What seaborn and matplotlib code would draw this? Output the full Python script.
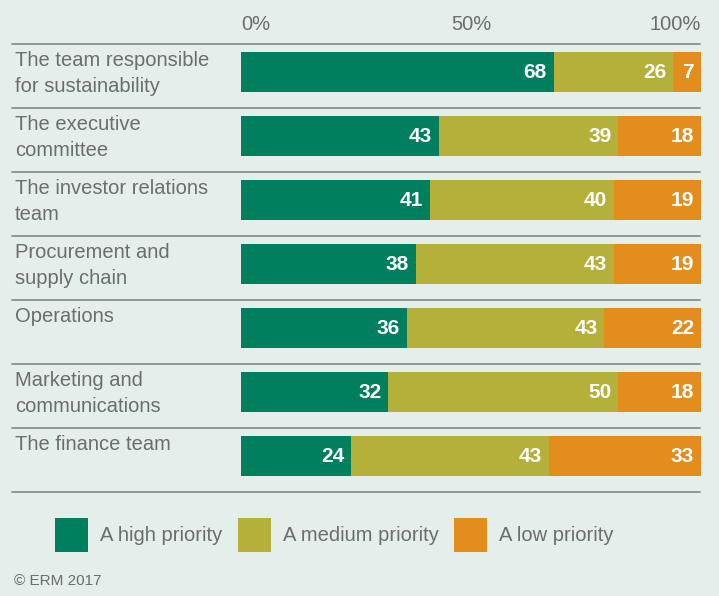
import numpy as np
import pandas as pd
import matplotlib
matplotlib.use("Agg")
import matplotlib.pyplot as plt
from matplotlib.lines import Line2D
from matplotlib.patches import Patch
import seaborn as sns

# data
categories = ["The team responsible\nfor sustainability",
              "The executive\ncommittee",
              "The investor relations\nteam",
              "Procurement and\nsupply chain",
              "Operations",
              "Marketing and\ncommunications",
              "The finance team"]
high = [68, 43, 41, 38, 36, 32, 24]
medium = [26, 39, 40, 43, 43, 50, 43]
low = [7, 18, 19, 19, 22, 18, 33]
series_names = ["A high priority", "A medium priority", "A low priority"]
tick_vals = [0, 50, 100]
tick_labels = ["0%", "50%", "100%"]

colors = ["#007f5f", "#b5b03a", "#e38d1c"]
bg = "#e4eeea"
grey = "#6b6e6c"

sns.set_theme(style="white")
plt.rcParams["font.family"] = ["Liberation Sans", "DejaVu Sans"]

df = pd.DataFrame({"cat": categories, "high": high, "medium": medium, "low": low})
df["c_high"] = df["high"]
df["c_medium"] = df["high"] + df["medium"]
df["c_low"] = df["c_medium"] + df["low"]

W, H = 719, 596
fig = plt.figure(figsize=(W / 100, H / 100), dpi=100, facecolor=bg)
ax = fig.add_axes([241 / W, (H - 492) / H, 460 / W, 448 / H])
ax.set_facecolor(bg)

# stacked bars: draw cumulative totals back to front
for col, c in zip(["c_low", "c_medium", "c_high"], colors[::-1]):
    sns.barplot(data=df, x=col, y="cat", color=c, orient="h", width=0.64,
                saturation=1, edgecolor="none", ax=ax)

ax.set_xlim(0, 100)
shift = 4 / 64
ax.set_ylim(6.5 + shift, -0.5 + shift)

# value labels
for i in range(len(categories)):
    ends = [df["c_high"][i], df["c_medium"][i], min(df["c_low"][i], 100)]
    vals = [high[i], medium[i], low[i]]
    for e, v in zip(ends, vals):
        ax.annotate(str(v), xy=(e, i), xytext=(-5, 0), textcoords="offset points",
                    ha="right", va="center", color="white", fontsize=15,
                    fontweight="bold")

# top ticks
ax.xaxis.tick_top()
ax.set_xticks(tick_vals)
ax.set_xticklabels(tick_labels, fontsize=14.5, color=grey)
for lab, ha in zip(ax.get_xticklabels(), ["left", "center", "right"]):
    lab.set_ha(ha)
ax.tick_params(axis="x", length=0, pad=7)
ax.set_yticks([])
ax.set_xlabel("")
ax.set_ylabel("")
sns.despine(ax=ax, left=True, bottom=True, top=True, right=True)

# category labels and separators
row_h = 64
for i, cat in enumerate(categories):
    top_px = 44 + i * row_h
    fig.text(15 / W, 1 - (top_px + 7) / H, cat, ha="left", va="top",
             fontsize=14.5, color=grey, linespacing=1.5)
for i in range(len(categories) + 1):
    y = 1 - (44 + i * row_h) / H
    fig.add_artist(Line2D([12 / W, 700 / W], [y, y], color="#7a7f7c", lw=1.1))

# legend
handles = [Patch(facecolor=c, edgecolor="none") for c in colors]
fig.legend(handles, series_names, loc="center left",
           bbox_to_anchor=(55 / W, 1 - 535 / H), ncol=3, frameon=False,
           fontsize=14.5, labelcolor=grey, handlelength=1.65, handleheight=2.2,
           handletextpad=0.6, columnspacing=0.75, borderpad=0, borderaxespad=0)

fig.text(14 / W, 1 - 581 / H, "© ERM 2017", ha="left", va="center",
         fontsize=11, color=grey)

fig.savefig("out.png", dpi=100, facecolor=bg)
